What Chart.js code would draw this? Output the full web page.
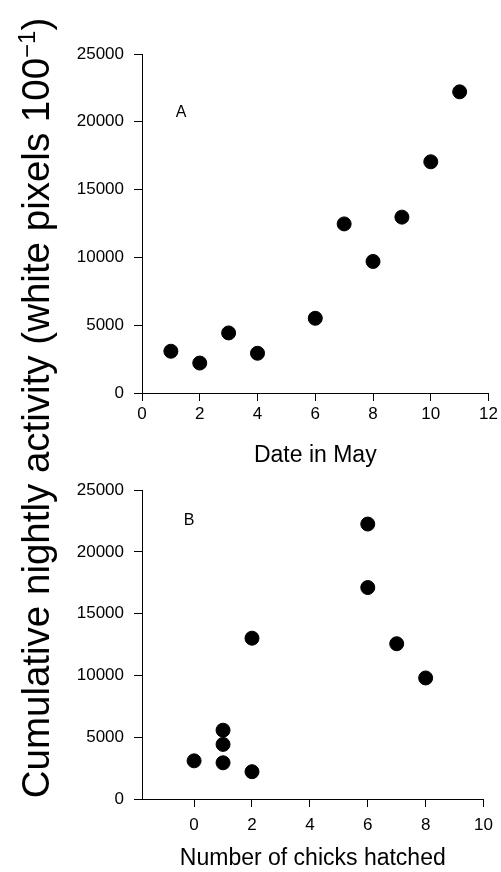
<!DOCTYPE html>
<html>
<head>
<meta charset="utf-8">
<script src="https://cdn.jsdelivr.net/npm/chart.js@4"></script>
<style>
  html, body { margin:0; padding:0; background:#fff; }
  body { width:501px; height:872px; position:relative; overflow:hidden; font-family:"Liberation Sans", Arial, sans-serif; }
  .wrap { position:absolute; left:0; width:501px; }
  #wa { top:0; height:475px; }
  #wb { top:470px; height:402px; }
  #ytitle { position:absolute; left:36px; top:408px; width:900px; margin-left:-450px; text-align:center;
    transform: translateY(-50%) rotate(-90deg); font-size:38.5px; line-height:44px; color:#000; white-space:nowrap; }
  #ytitle sup { font-size:24px; vertical-align:14px; line-height:0; }
  .plab { position:absolute; font-size:16px; color:#000; transform:translate(-50%,-50%); }
</style>
</head>
<body>
<div class="wrap" id="wa"><canvas id="ca"></canvas></div>
<div class="wrap" id="wb"><canvas id="cb"></canvas></div>
<div id="ytitle">Cumulative nightly activity (white pixels 100<sup>−1</sup>)</div>
<div class="plab" style="left:181px;top:112px;">A</div>
<div class="plab" style="left:189px;top:520px;">B</div>
<script>
// ---- data ----
const dateInMay = [1, 2, 3, 4, 6, 7, 8, 9, 10, 11];
const activityA = [3080, 2210, 4430, 2930, 5510, 12470, 9700, 12970, 17050, 22210];
const chicksHatched = [0, 2, 1, 1, 1, 7, 8, 2, 6, 6];
const activityB = [3090, 2210, 4420, 2930, 5570, 12570, 9800, 13020, 17120, 22260];
const yTicks = [0, 5000, 10000, 15000, 20000, 25000];
const xTicksA = [0, 2, 4, 6, 8, 10, 12];
const xTicksB = [0, 2, 4, 6, 8, 10];

Chart.defaults.font.family = '"Liberation Sans", Arial, sans-serif';
Chart.defaults.color = '#000';
Chart.defaults.animation = false;

function makeChart(id, xs, ys, xTicks, xMin, xMax, xTitle, opts) {
  const pts = xs.map((x, i) => ({x: x, y: ys[i]}));
  return new Chart(document.getElementById(id), {
    type: 'scatter',
    data: { datasets: [{ data: pts, backgroundColor: '#000', borderColor: '#000', pointRadius: 7, pointHoverRadius: 7 }] },
    options: {
      responsive: true, maintainAspectRatio: false,
      layout: { padding: { top: opts.padTop, right: 12, left: 0, bottom: 0 } },
      plugins: { legend: { display: false }, tooltip: { enabled: false } },
      scales: {
        x: {
          type: 'linear', min: xMin, max: xMax,
          afterBuildTicks: s => { s.ticks = xTicks.map(v => ({value: v})); },
          afterFit: s => { s.height = opts.xHeight; },
          grid: { drawOnChartArea: false, drawTicks: true, tickLength: 8, color: '#000', lineWidth: 1 },
          border: { display: true, color: '#000', width: 1 },
          ticks: { font: { size: 17 }, padding: opts.xTickPad, color: '#000', maxRotation: 0, callback: v => String(v) },
          title: { display: true, text: xTitle, font: { size: 23 }, padding: { top: 0, bottom: opts.xTitlePad }, color: '#000' }
        },
        y: {
          type: 'linear', min: 0, max: 25000,
          afterBuildTicks: s => { s.ticks = yTicks.map(v => ({value: v})); },
          afterFit: s => { s.width = 142; },
          grid: { drawOnChartArea: false, drawTicks: true, tickLength: 8, color: '#000', lineWidth: 1 },
          border: { display: true, color: '#000', width: 1 },
          ticks: { font: { size: 17 }, padding: 10, color: '#000', callback: v => String(v) }
        }
      }
    }
  });
}

makeChart('ca', dateInMay, activityA, xTicksA, 0, 12, 'Date in May', { padTop: 54, xHeight: 82, xTickPad: 3, xTitlePad: 6 });
makeChart('cb', chicksHatched, activityB, xTicksB, -1.8, 10, 'Number of chicks hatched', { padTop: 16, xHeight: 73, xTickPad: 8, xTitlePad: 0 });
</script>
</body>
</html>
